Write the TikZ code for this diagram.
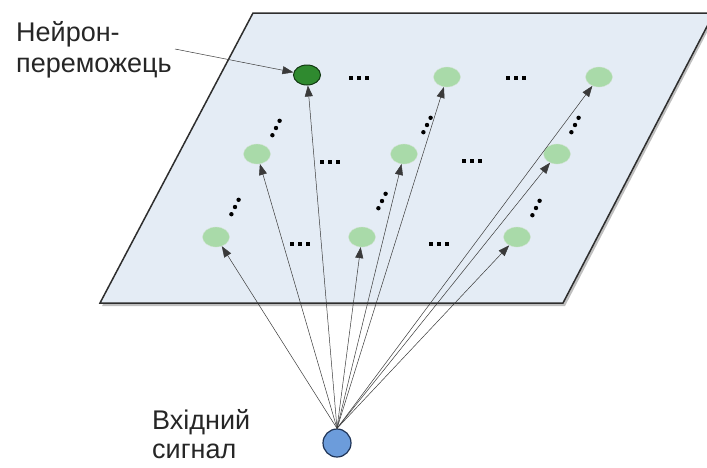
\documentclass[tikz,border=0pt]{standalone}
\usepackage{fontspec}
\setmainfont{Liberation Sans}
\usetikzlibrary{shapes.geometric,arrows.meta}
\definecolor{planefill}{HTML}{E4ECF5}
\definecolor{planeline}{HTML}{2E2E2E}
\definecolor{lightnode}{HTML}{A9DAA9}
\definecolor{darknode}{HTML}{2F8A2F}
\definecolor{darkline}{HTML}{123812}
\definecolor{srcfill}{HTML}{6C9CDB}
\definecolor{srcline}{HTML}{1E3356}
\definecolor{wire}{HTML}{3A3A3A}
\tikzset{
  neuron/.style={ellipse,fill=lightnode,draw=lightnode!85!black!40,line width=0.3pt,minimum width=27pt,minimum height=20pt,inner sep=0pt},
  winner/.style={ellipse,fill=darknode,draw=darkline,line width=1pt,minimum width=27pt,minimum height=20pt,inner sep=0pt},
  source/.style={circle,fill=srcfill,draw=srcline,line width=1.2pt,minimum size=28pt,inner sep=0pt},
  link/.style={draw=wire,line width=0.5pt,-{Triangle[length=11pt,width=8pt]}},
  label/.style={font=\fontsize{27}{31}\selectfont,align=left,inner sep=0pt,text=black!85},
  hdots/.pic={\foreach \i in {-1,0,1} \fill (\i*8,0) rectangle ++(3.8,3.8);},
  ddots/.pic={\foreach \i in {-1,0,1} \fill (\i*3.6,-\i*7.2) circle (2.2);}
}
\begin{document}
\begin{tikzpicture}[x=1pt,y=-1pt]
\useasboundingbox (0,0) rectangle (707,467);
\clip (0,0) rectangle (707,467);
% plane
\fill[black!25] (255,15) -- (716,15) -- (565,306) -- (102,306) -- cycle;
\draw[fill=planefill,draw=planeline,line width=1.5pt,line join=miter]
  (253,13) -- (714,13) -- (563,303) -- (100,303) -- cycle;
% neurons
\node[winner] (n11) at (307,75) {};
\node[neuron] (n12) at (447,77) {};
\node[neuron] (n13) at (599,77) {};
\node[neuron] (n21) at (257,154) {};
\node[neuron] (n22) at (404,154) {};
\node[neuron] (n23) at (557,154) {};
\node[neuron] (n31) at (216,237) {};
\node[neuron] (n32) at (362,237) {};
\node[neuron] (n33) at (517,237) {};
% dots
\pic at (357,76) {hdots};
\pic at (514,76) {hdots};
\pic at (328,160) {hdots};
\pic at (470,159) {hdots};
\pic at (298,242) {hdots};
\pic at (437,242) {hdots};
\pic at (276,128) {ddots};
\pic at (427,125) {ddots};
\pic at (575,125) {ddots};
\pic at (235,207) {ddots};
\pic at (382,201) {ddots};
\pic at (536,208) {ddots};
% source
\node[source] (src) at (337,443) {};
% links
\foreach \t in {n11,n12,n13,n21,n22,n23,n31,n32,n33}
  \draw[link] (src.north) -- (\t);
% labels
\node[label,anchor=west] (lblw) at (16,50) {Нейрон-\\переможець};
\coordinate (lw) at (175,49);
\draw[link] (lw) -- (n11);
\node[label,anchor=west,font=\fontsize{27}{29}\selectfont] (lbls) at (152,434) {Вхідний\\сигнал};
\end{tikzpicture}
\end{document}
